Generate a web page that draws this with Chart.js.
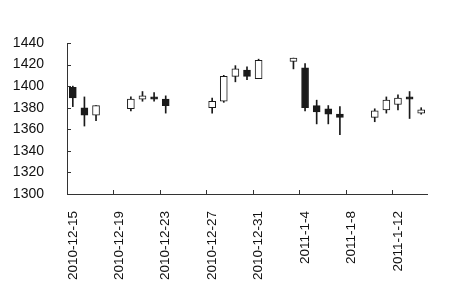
<!DOCTYPE html>
<html>
<head>
<meta charset="utf-8">
<script src="https://cdn.jsdelivr.net/npm/chart.js@4"></script>
<style>
  html, body { margin: 0; padding: 0; background: #fff; }
  #wrap { width: 450px; height: 300px; }
</style>
</head>
<body>
<div id="wrap"><canvas id="chart"></canvas></div>
<script>
// one entry per calendar day, null where there was no trading
var labels = ['2010-12-15', '2010-12-16', '2010-12-17', '2010-12-18', '2010-12-19', '2010-12-20', '2010-12-21',
  '2010-12-22', '2010-12-23', '2010-12-24', '2010-12-25', '2010-12-26', '2010-12-27', '2010-12-28',
  '2010-12-29', '2010-12-30', '2010-12-31', '2011-1-1', '2011-1-2', '2011-1-3', '2011-1-4', '2011-1-5',
  '2011-1-6', '2011-1-7', '2011-1-8', '2011-1-9', '2011-1-10', '2011-1-11', '2011-1-12', '2011-1-13', '2011-1-14'];
var opens  = [1399, 1380, 1373, null, null, 1379, 1388, 1390, 1388, null, null, null, 1380, 1386, 1409, 1415, 1407, null, null, 1423, 1417, 1382, 1379, 1374, null, null, 1371, 1378, 1383, 1390, 1375];
var closes = [1389, 1373, 1382, null, null, 1388, 1391, 1388, 1382, null, null, null, 1386, 1409, 1416, 1409, 1424, null, null, 1426, 1380, 1376, 1374, 1371, null, null, 1377, 1387, 1389, 1388, 1378];
var highs  = [1400, 1390, 1382, null, null, 1390, 1395, 1394, 1391, null, null, null, 1389, 1410, 1419, 1418, 1425, null, null, 1426, 1421, 1387, 1382, 1381, null, null, 1379, 1390, 1392, 1395, 1380];
var lows   = [1381, 1363, 1368, null, null, 1377, 1386, 1386, 1375, null, null, null, 1375, 1385, 1404, 1406, 1407, null, null, 1416, 1377, 1365, 1365, 1355, null, null, 1367, 1375, 1378, 1370, 1374];
var yTicks = [1300, 1320, 1340, 1360, 1380, 1400, 1420, 1440];

var bodies = opens.map(function (o, i) { return o === null ? null : [o, closes[i]]; });
var wicks = lows.map(function (l, i) { return l === null ? null : [l, highs[i]]; });
var fills = opens.map(function (o, i) { return closes[i] < o ? '#1a1a1a' : '#ffffff'; });

var axisColor = '#333';

// tick marks pointing into the plot, like the original
var innerTicks = {
  id: 'innerTicks',
  afterDatasetsDraw: function (chart) {
    var ctx = chart.ctx, a = chart.chartArea, xs = chart.scales.x, ys = chart.scales.y;
    var half = (xs.getPixelForValue(1) - xs.getPixelForValue(0)) / 2;
    ctx.save();
    ctx.strokeStyle = axisColor;
    ctx.lineWidth = 1;
    ctx.beginPath();
    yTicks.forEach(function (v) {
      var py = Math.round(ys.getPixelForValue(v)) + 0.5;
      ctx.moveTo(a.left, py);
      ctx.lineTo(a.left + 4, py);
    });
    for (var i = 4; i < labels.length; i += 4) {
      var px = Math.round(xs.getPixelForValue(i) - half) + 0.5;
      ctx.moveTo(px, a.bottom);
      ctx.lineTo(px, a.bottom - 4);
    }
    ctx.stroke();
    ctx.restore();
  }
};

new Chart(document.getElementById('chart').getContext('2d'), {
  type: 'bar',
  data: {
    labels: labels,
    datasets: [{
      label: 'body',
      data: bodies,
      backgroundColor: fills,
      borderColor: '#1a1a1a',
      borderWidth: 1,
      borderSkipped: false,
      barThickness: 7,
      grouped: false,
      order: 0
    }, {
      label: 'wick',
      data: wicks,
      backgroundColor: '#1a1a1a',
      borderWidth: 0,
      barThickness: 1,
      grouped: false,
      order: 1
    }]
  },
  plugins: [innerTicks],
  options: {
    responsive: true,
    maintainAspectRatio: false,
    animation: false,
    layout: { padding: { top: 43, right: 23, left: 0, bottom: 0 } },
    plugins: { legend: { display: false }, tooltip: { enabled: false } },
    scales: {
      x: {
        offset: true,
        border: { color: axisColor, width: 1 },
        grid: { offset: true, drawOnChartArea: false, drawTicks: false },
        ticks: {
          autoSkip: false,
          minRotation: 90,
          maxRotation: 90,
          padding: 17,
          color: '#111',
          font: { family: 'Liberation Sans', size: 13.5 },
          callback: function (v, i) { return i % 4 === 0 ? labels[i] : ''; }
        },
        afterFit: function (s) { s.height = 106; s.paddingLeft = 0; s.paddingRight = 0; }
      },
      y: {
        min: 1300,
        max: 1440,
        border: { color: axisColor, width: 1 },
        grid: { drawOnChartArea: false, drawTicks: false },
        afterBuildTicks: function (s) { s.ticks = yTicks.map(function (v) { return { value: v }; }); },
        ticks: {
          padding: 23,
          color: '#111',
          font: { family: 'Liberation Sans', size: 14 },
          callback: function (v) { return String(v); }
        },
        afterFit: function (s) { s.width = 67; s.paddingTop = 0; s.paddingBottom = 0; }
      }
    }
  }
});
</script>
</body>
</html>
